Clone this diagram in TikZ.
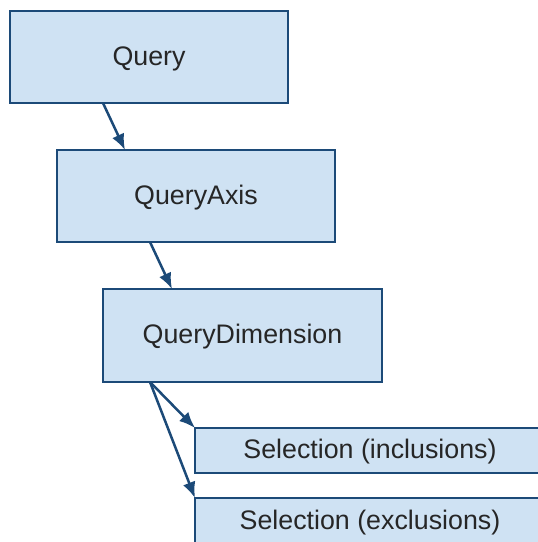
\documentclass[tikz,border=0pt]{standalone}
\usepackage{fontspec}
\setmainfont{Liberation Sans}
\usetikzlibrary{arrows.meta}
\definecolor{boxfill}{HTML}{CFE2F3}
\definecolor{boxline}{HTML}{1C4A78}
\definecolor{txt}{HTML}{262626}
\tikzset{
  box/.style={draw=boxline, fill=boxfill, line width=2.5pt, rectangle, anchor=north west,
    inner sep=0pt, outer sep=0pt, text=txt, font=\fontsize{26.8}{30}\selectfont,
    text height=19pt, text depth=3pt},
  conn/.style={draw=boxline, line width=2.5pt, -{Latex[length=16pt,width=13pt]}}
}
\begin{document}
\begin{tikzpicture}[x=1pt,y=-1pt]
\useasboundingbox (0,0) rectangle (538,542);
\clip (0,0) rectangle (538,542);
\node[box, minimum width=278pt, minimum height=92pt] (q) at (10,11) {Query};
\node[box, minimum width=278pt, minimum height=92pt] (qa) at (57,150) {QueryAxis};
\node[box, minimum width=279pt, minimum height=93pt] (qd) at (103,289) {QueryDimension};
\node[box, minimum width=350pt, minimum height=45pt] (inc) at (195,428) {Selection (inclusions)};
\node[box, minimum width=350pt, minimum height=46pt] (exc) at (195,498) {Selection (exclusions)};
\draw[conn] ([xshift=93pt]q.south west) -- ([xshift=68pt]qa.north west);
\draw[conn] ([xshift=93pt]qa.south west) -- ([xshift=69pt]qd.north west);
\draw[conn] ([xshift=47pt]qd.south west) -- (inc.north west);
\draw[conn] ([xshift=47pt]qd.south west) -- (exc.north west);
\end{tikzpicture}
\end{document}
